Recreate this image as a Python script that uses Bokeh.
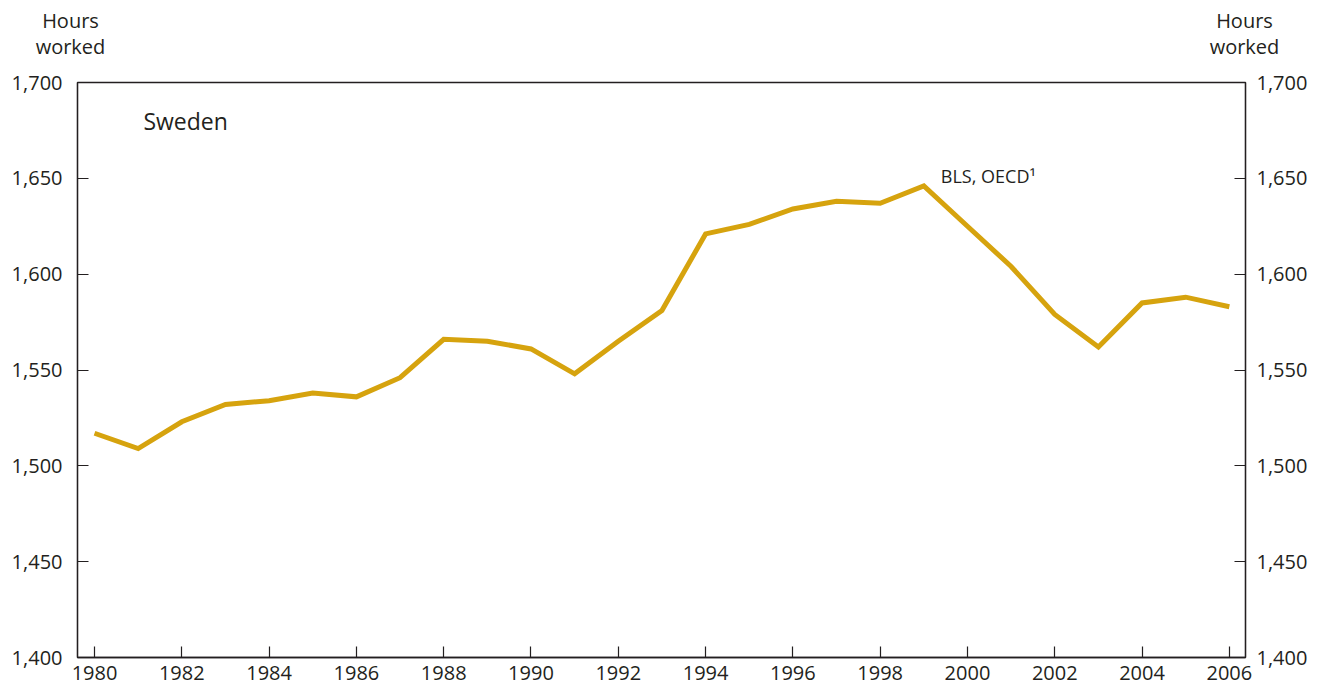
from bokeh.plotting import figure
from bokeh.models import Range1d, LinearAxis, FixedTicker, NumeralTickFormatter, Label
from bokeh.core.properties import value
from bokeh.embed import file_html
from bokeh.resources import INLINE

years = list(range(1980, 2007))
hours = [1517, 1509, 1523, 1532, 1534, 1538, 1536, 1546, 1566, 1565, 1561, 1548, 1565,
         1581, 1621, 1626, 1634, 1638, 1637, 1646, 1625, 1604, 1579, 1562, 1585, 1588, 1583]
x_ticks = list(range(1980, 2007, 2))
y_ticks = list(range(1400, 1701, 50))
country = "Sweden"
series_label = "BLS, OECD\u00b9"
axis_title = ["Hours", "worked"]

FONT = "Open Sans"
INK = "#231F20"
GOLD = "#D6A30E"
W = 1322
TOP_H = 70
FRAME_L, FRAME_R = 77, 1245

# header strip (separate root) holding the two axis titles; pixel coordinates, y downward
head = figure(width=W, height=TOP_H, output_backend="svg", toolbar_location=None,
              x_range=Range1d(0, W), y_range=Range1d(TOP_H, 0),
              x_axis_type=None, y_axis_type=None, min_border=0)
head.outline_line_color = None
head.xgrid.visible = False
head.ygrid.visible = False
head.text(x=[70, 70, 1244, 1244], y=[20, 46, 20, 46], text=axis_title * 2,
          text_align="center", text_baseline="middle",
          text_font=value(FONT), text_font_size="20px", text_color=INK)

p = figure(width=W, height=688 - TOP_H, output_backend="svg", toolbar_location=None,
           x_range=Range1d(1979.61, 2006.37), y_range=Range1d(1400, 1700),
           min_border_left=FRAME_L, min_border_right=W - FRAME_R,
           min_border_top=82 - TOP_H, min_border_bottom=31)
p.background_fill_color = "white"
p.border_fill_color = "white"
p.outline_line_color = INK
p.outline_line_width = 1.3
p.xgrid.visible = False
p.ygrid.visible = False

p.line(years, hours, line_color=GOLD, line_width=5, line_join="miter")

p.add_layout(LinearAxis(), "right")
for ax in p.xaxis + p.yaxis:
    ax.axis_line_color = INK
    ax.axis_line_width = 1.3
    ax.major_tick_line_color = INK
    ax.major_tick_line_width = 1.2
    ax.major_tick_in = 11
    ax.major_tick_out = 0
    ax.minor_tick_line_color = None
    ax.major_label_text_font = FONT
    ax.major_label_text_font_size = "20px"
    ax.major_label_text_color = INK

p.xaxis.ticker = FixedTicker(ticks=x_ticks)
p.xaxis.major_label_standoff = 8
for ax in p.yaxis:
    ax.ticker = FixedTicker(ticks=y_ticks)
    ax.formatter = NumeralTickFormatter(format="0,0")
p.yaxis[0].major_label_standoff = 15
p.yaxis[1].major_label_standoff = 11

p.add_layout(Label(x=1981.12, y=1680.0, text=country, text_align="left", text_baseline="alphabetic",
                   text_font=FONT, text_font_size="23px", text_color=INK))
p.add_layout(Label(x=1999.39, y=1651.4, text=series_label, text_align="left", text_baseline="alphabetic",
                   text_font=FONT, text_font_size="18px", text_color=INK))

open("out.html", "w").write(file_html([head, p], INLINE))
